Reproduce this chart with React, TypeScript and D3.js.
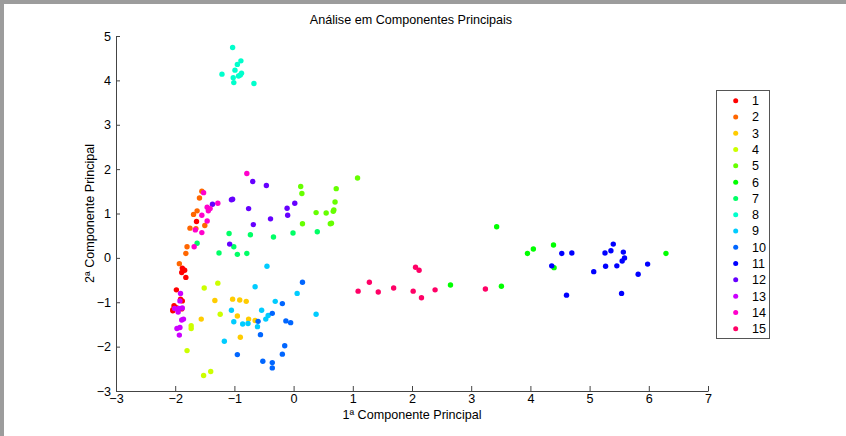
import React, { useEffect, useRef } from "react";
import * as d3 from "d3";

// pontos de cada classe [pc1, pc2]
const classe1 = [[-1.64, 0.82], [-1.88, -0.23], [-1.84, -0.28], [-1.89, -0.33], [-1.86, -0.27], [-1.82, -0.44], [-1.98, -0.72], [-2.04, -1.19], [-2.02, -1.08], [-1.98, -1.12], [-1.88, -0.97], [-1.89, -1.15], [-2.04, -1.17], [-1.91, -0.93]];
const classe2 = [[-1.55, 1.5], [-1.59, 1.35], [-1.63, 1.06], [-1.69, 0.98], [-1.5, 0.73], [-1.75, 0.67], [-1.65, 0.66], [-1.8, 0.25], [-1.82, 0.1], [-1.93, -0.13]];
const classe3 = [[-1.33, -0.96], [-1.03, -0.93], [-0.91, -0.95], [-0.8, -0.98], [-0.95, -1.31], [-0.76, -1.38], [-0.65, -1.41], [-1.56, -1.38], [-0.9, -1.79]];
const classe4 = [[-1.51, -0.68], [-1.28, -0.57], [-1.24, -1.27], [-1.73, -1.53], [-1.73, -1.59], [-1.8, -2.09], [-1.4, -2.56], [-1.52, -2.65]];
const classe5 = [[0.12, 1.61], [0.14, 1.45], [0.72, 1.56], [1.08, 1.8], [0.7, 1.26], [0.38, 1.02], [0.55, 1.01], [0.68, 1.08], [0.67, 1.05], [0.15, 0.77], [0.64, 0.78], [0.62, 0.77]];
const classe6 = [[3.43, 0.7], [3.95, 0.1], [4.05, 0.2], [4.39, 0.29], [4.4, -0.22], [2.65, -0.61], [3.51, -0.64], [6.29, 0.1]];
const classe7 = [[-1.09, 0.55], [-0.73, 0.52], [-0.34, 0.47], [-0.01, 0.56], [0.4, 0.59], [-1.63, 0.33], [-1.01, 0.25], [-1.26, 0.11], [-0.95, 0.08], [-0.79, 0.1]];
const classe8 = [[-1.03, 4.74], [-1.21, 4.14], [-0.99, 4.23], [-0.95, 4.36], [-0.89, 4.44], [-1.02, 4.06], [-1.01, 3.95], [-0.93, 4.1], [-0.88, 4.16], [-0.9, 4.12], [-0.67, 3.93]];
const classe9 = [[-0.65, -0.65], [0.06, -0.8], [-0.31, -0.98], [-1.05, -1.18], [-0.54, -1.18], [-1.01, -1.44], [-0.86, -1.49], [-0.77, -1.48], [-0.61, -1.55], [-0.47, -1.38], [-0.43, -1.3], [-1.17, -1.88], [0.38, -1.27], [-0.45, -0.19]];
const classe10 = [[0.15, -0.55], [-0.19, -1.03], [-0.36, -1.25], [-0.13, -1.42], [-0.05, -1.46], [-0.6, -1.43], [-0.56, -1.73], [-0.15, -1.98], [-0.19, -2.17], [-0.95, -2.18], [-0.52, -2.33], [-0.36, -2.36], [-0.36, -2.48]];
const classe11 = [[4.53, 0.1], [4.7, 0.11], [4.36, -0.18], [4.61, -0.84], [5.07, -0.31], [5.26, 0.11], [5.36, 0.16], [5.4, 0.31], [5.57, 0.13], [5.27, -0.19], [5.46, -0.18], [5.55, -0.07], [5.59, 0.0], [5.54, -0.8], [5.82, -0.37], [5.98, -0.14]];
const classe12 = [[-0.69, 1.72], [-0.46, 1.63], [-1.37, 1.21], [-1.05, 1.31], [-1.03, 1.32], [-0.76, 1.11], [-0.11, 1.12], [0.02, 1.23], [-0.1, 0.96], [-0.39, 0.88], [-0.68, 0.75], [-1.08, 0.31]];
const classe13 = [[-1.91, -0.8], [-1.92, -0.97], [-2.01, -1.14], [-1.94, -1.14], [-1.88, -1.13], [-1.95, -1.22], [-1.86, -1.38], [-1.89, -1.4], [-1.97, -1.59], [-1.92, -1.57], [-1.93, -1.74]];
const classe14 = [[-0.79, 1.9], [-1.52, 1.47], [-1.28, 1.23], [-1.46, 1.14], [-1.41, 1.11], [-1.44, 1.06], [-1.55, 0.96], [-1.46, 0.83], [-1.66, 0.63], [-1.55, 0.57], [-1.68, 0.25]];
const classe15 = [[1.09, -0.75], [1.28, -0.55], [1.43, -0.77], [1.69, -0.68], [2.02, -0.75], [2.06, -0.21], [2.12, -0.28], [2.16, -0.9], [2.39, -0.72], [3.24, -0.7]];

const classes = [classe1, classe2, classe3, classe4, classe5, classe6, classe7, classe8, classe9, classe10, classe11, classe12, classe13, classe14, classe15];
const nomes = ["1", "2", "3", "4", "5", "6", "7", "8", "9", "10", "11", "12", "13", "14", "15"];
const cores = ["#ff0000", "#ff6600", "#ffcc00", "#ccff00", "#66ff00", "#00ff00", "#00ff66", "#00ffcc", "#00ccff", "#0066ff", "#0000ff", "#6600ff", "#cc00ff", "#ff00cc", "#ff0066"];
const xTicks = [-3, -2, -1, 0, 1, 2, 3, 4, 5, 6, 7];
const yTicks = [-3, -2, -1, 0, 1, 2, 3, 4, 5];

const App = () => {
  const ref = useRef(null);
  const width = 846;
  const height = 436;
  const font = "'Liberation Sans', Arial, sans-serif";
  const fs = 12.6;

  useEffect(() => {
    const svg = d3.select(ref.current);
    svg.selectAll("*").remove();

    const x = d3.scaleLinear().domain([-3, 7]).range([116, 708]);
    const y = d3.scaleLinear().domain([-3, 5]).range([391, 36]);

    // moldura cinza da janela
    svg.append("rect").attr("width", width).attr("height", height).attr("fill", "#fff");
    svg.append("rect").attr("width", width).attr("height", 4).attr("fill", "#9c9c9c");
    svg.append("rect").attr("width", 4).attr("height", height).attr("fill", "#9c9c9c");

    svg
      .append("text")
      .attr("x", 411)
      .attr("y", 24)
      .attr("text-anchor", "middle")
      .attr("font-family", font)
      .attr("font-size", fs)
      .text("Análise em Componentes Principais");

    const gy = svg
      .append("g")
      .attr("transform", `translate(${x(-3)},0)`)
      .call(d3.axisLeft(y).tickValues(yTicks).tickSize(-4).tickSizeOuter(0).tickPadding(5).tickFormat(d3.format("d")));
    const gx = svg
      .append("g")
      .attr("transform", `translate(0,${y(-3)})`)
      .call(d3.axisBottom(x).tickValues(xTicks).tickSize(-5).tickSizeOuter(0).tickPadding(3).tickFormat(d3.format("d")));
    [gx, gy].forEach(g => {
      g.select(".domain").attr("stroke", "#444");
      g.selectAll(".tick line").attr("stroke", "#444");
      g.selectAll(".tick text").attr("font-family", font).attr("font-size", fs).attr("fill", "#000");
    });

    svg
      .append("text")
      .attr("x", 412)
      .attr("y", 419)
      .attr("text-anchor", "middle")
      .attr("font-family", font)
      .attr("font-size", fs)
      .text("1ª Componente Principal");
    svg
      .append("text")
      .attr("transform", `translate(94,${y(1)}) rotate(-90)`)
      .attr("text-anchor", "middle")
      .attr("font-family", font)
      .attr("font-size", fs)
      .text("2ª Componente Principal");

    classes.forEach((pts, i) => {
      svg
        .append("g")
        .attr("fill", cores[i])
        .selectAll("circle")
        .data(pts)
        .join("circle")
        .attr("cx", d => x(d[0]))
        .attr("cy", d => y(d[1]))
        .attr("r", 2.7);
    });

    // legenda
    const leg = svg.append("g");
    leg
      .append("rect")
      .attr("x", 716.5)
      .attr("y", 90.5)
      .attr("width", 53)
      .attr("height", 248)
      .attr("fill", "#fff")
      .attr("stroke", "#555");
    const ly = d3.scalePoint().domain(nomes).range([100.7, 328.7]);
    nomes.forEach((n, i) => {
      leg.append("circle").attr("cx", 735.7).attr("cy", ly(n)).attr("r", 2.5).attr("fill", cores[i]);
      leg
        .append("text")
        .attr("x", 752)
        .attr("y", ly(n))
        .attr("dy", "0.35em")
        .attr("font-family", font)
        .attr("font-size", fs)
        .text(n);
    });
  }, []);

  return (
    <svg
      ref={ref}
      width={width}
      height={height}
      style={{ position: "absolute", left: 0, top: 0 }}
    />
  );
};

export default App;
